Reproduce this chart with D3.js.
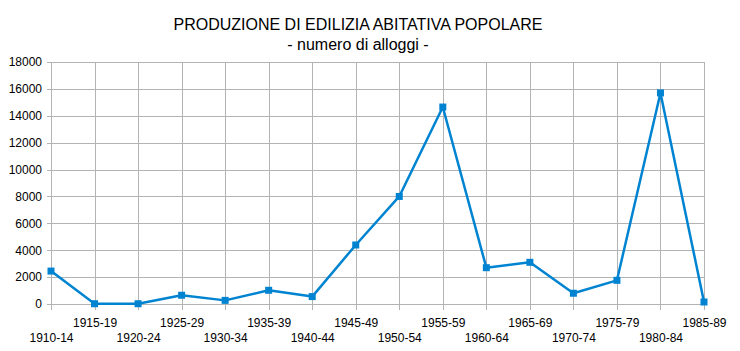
<!DOCTYPE html>
<html>
<head>
  <script src="https://d3js.org/d3.v7.min.js"></script>
  <style>
    body { margin: 0; background: #fff; font-family: "Liberation Sans", Arial, sans-serif; }
    .grid line { stroke: #b3b3b3; stroke-width: 1; shape-rendering: crispEdges; }
    .grid path { display: none; }
    .grid text { font-size: 12px; fill: #000; font-family: "Liberation Sans", Arial, sans-serif; }
    .title { font-size: 16px; text-anchor: middle; fill: #000; }
  </style>
</head>
<body>
  <div id="chart"></div>
  <script>
    const periods = ["1910-14", "1915-19", "1920-24", "1925-29", "1930-34", "1935-39",
      "1940-44", "1945-49", "1950-54", "1955-59", "1960-64", "1965-69",
      "1970-74", "1975-79", "1980-84", "1985-89"];
    const alloggi = [2450, 20, 20, 650, 270, 1020, 550, 4390, 8000, 14650,
      2700, 3100, 800, 1760, 15700, 150];
    const yTicks = [0, 2000, 4000, 6000, 8000, 10000, 12000, 14000, 16000, 18000];

    const W = 740, H = 351;
    const plot = {left: 51, right: 704, top: 62, bottom: 304};

    const svg = d3.select("#chart").append("svg")
      .attr("width", W)
      .attr("height", H);

    const x = d3.scalePoint()
      .domain(periods)
      .range([plot.left, plot.right]);

    const y = d3.scaleLinear()
      .domain([0, 18000])
      .range([plot.bottom, plot.top]);

    // horizontal grid + y labels
    svg.append("g")
      .attr("class", "grid")
      .attr("transform", `translate(${plot.left - 4},0)`)
      .call(d3.axisLeft(y)
        .tickValues(yTicks)
        .tickFormat(d3.format("d"))
        .tickSizeInner(-(plot.right - plot.left + 4))
        .tickSizeOuter(0)
        .tickPadding(5));

    // vertical grid + staggered x labels
    const xg = svg.append("g")
      .attr("class", "grid")
      .attr("transform", `translate(0,${plot.bottom + 6})`)
      .call(d3.axisBottom(x)
        .tickSizeInner(-(plot.bottom + 6 - plot.top))
        .tickSizeOuter(0)
        .tickPadding(0));

    xg.selectAll(".tick text")
      .attr("dy", null)
      .attr("y", (d, i) => i % 2 === 1 ? 17 : 32);

    // title
    svg.append("text")
      .attr("class", "title")
      .attr("x", 358)
      .attr("y", 30)
      .text("PRODUZIONE DI EDILIZIA ABITATIVA POPOLARE");

    svg.append("text")
      .attr("class", "title")
      .attr("x", 358)
      .attr("y", 50)
      .text("- numero di alloggi -");

    // series
    const line = d3.line()
      .x((d, i) => x(periods[i]))
      .y(d => y(d));

    svg.append("path")
      .datum(alloggi)
      .attr("fill", "none")
      .attr("stroke", "#0084d1")
      .attr("stroke-width", 2.5)
      .attr("stroke-linejoin", "round")
      .attr("d", line);

    const ms = 7;
    svg.selectAll(".marker")
      .data(alloggi)
      .enter()
      .append("rect")
        .attr("class", "marker")
        .attr("x", (d, i) => x(periods[i]) - ms / 2)
        .attr("y", d => y(d) - ms / 2)
        .attr("width", ms)
        .attr("height", ms)
        .attr("fill", "#0084d1");
  </script>
</body>
</html>
